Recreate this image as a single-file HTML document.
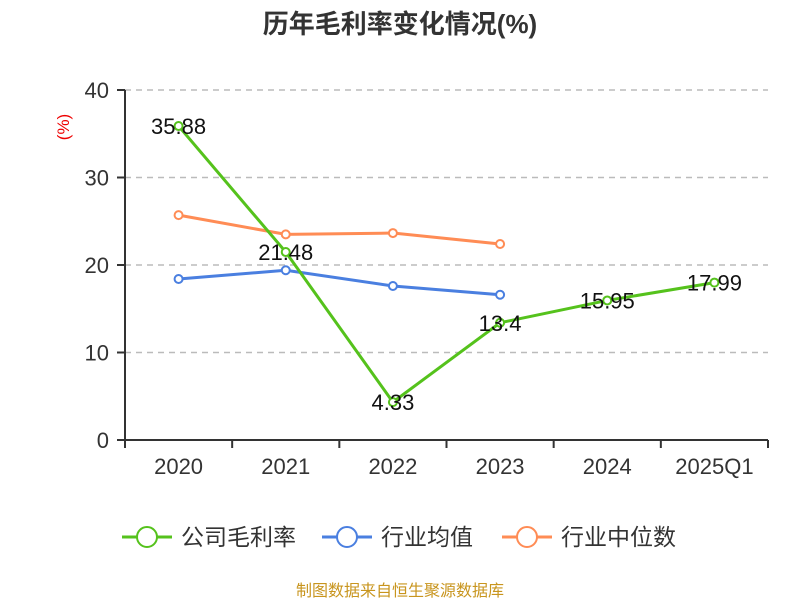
<!DOCTYPE html>
<html><head><meta charset="utf-8"><style>
body{margin:0;background:#fff;font-family:"Liberation Sans","Noto Sans CJK SC",sans-serif}
svg text{font-family:"Liberation Sans","Noto Sans CJK SC",sans-serif}
</style></head><body>
<svg id="c" width="800" height="600" xmlns="http://www.w3.org/2000/svg">
<text x="400" y="33" text-anchor="middle" font-size="26" font-weight="bold" fill="#333">历年毛利率变化情况(%)</text>
<text transform="translate(69,127) rotate(-90)" text-anchor="middle" font-size="17" fill="#e00">(%)</text>
<g id="plot"></g>
<text x="400" y="596" text-anchor="middle" font-size="16" fill="#c8951e">制图数据来自恒生聚源数据库</text>
</svg>
<script>
const categories=["2020","2021","2022","2023","2024","2025Q1"];
const company=[35.88,21.48,4.33,13.4,15.95,17.99];
const industryAvg=[18.4,19.4,17.6,16.6,null,null];
const industryMedian=[25.7,23.5,23.65,22.4,null,null];
const yTicks=[0,10,20,30,40];
const NS="http://www.w3.org/2000/svg";
const g=document.getElementById('plot');
const L=125,R=768,T=90,B=440,yMax=40;
const bw=(R-L)/categories.length;
const x=i=>L+bw*(i+0.5);
const y=v=>B-(v/yMax)*(B-T);
function mk(t,a,p){const e=document.createElementNS(NS,t);for(const k in a)e.setAttribute(k,a[k]);(p||g).appendChild(e);return e;}
yTicks.forEach(v=>{
 if(v>0){const ln=mk('line',{x1:L,x2:R,y1:y(v),y2:y(v),stroke:'#bbb','stroke-dasharray':'6,5','stroke-width':1.5});
 
 }
 const tk=mk('line',{x1:L-8,x2:L,y1:y(v),y2:y(v),stroke:'#333','stroke-width':2});
 
 
 const t=mk('text',{x:L-16,y:y(v)+8,'text-anchor':'end','font-size':22,fill:'#333'});t.textContent=v;
 
 
});
const ya=mk('line',{x1:L,x2:L,y1:T,y2:B,stroke:'#333','stroke-width':2});


const xa=mk('line',{x1:L,x2:R,y1:B,y2:B,stroke:'#333','stroke-width':2});


for(let i=0;i<=categories.length;i++){const tk=mk('line',{x1:L+bw*i,x2:L+bw*i,y1:B,y2:B+8,stroke:'#333','stroke-width':2});
 
 }
categories.forEach((c,i)=>{const t=mk('text',{x:x(i),y:B+34,'text-anchor':'middle','font-size':22,fill:'#333'});t.textContent=c;
 
 });
function series(data,color,name,labels){
 let pts=[];data.forEach((v,i)=>{if(v!=null)pts.push([x(i),y(v),v]);});
 const pl=mk('polyline',{points:pts.map(p=>p[0]+','+p[1]).join(' '),fill:'none',stroke:color,'stroke-width':3});
 
 
 pts.forEach(p=>{const c=mk('circle',{cx:p[0],cy:p[1],r:4,fill:'#fff',stroke:color,'stroke-width':2});
  
  
  if(labels){const t=mk('text',{x:p[0],y:p[1]+8,'text-anchor':'middle','font-size':22,fill:'#111'});t.textContent=p[2];
   
   }
 });
}
series(industryMedian,'#ff8c55','industry-median',false);
series(industryAvg,'#4a7fe0','industry-average',false);
series(company,'#55c21c','company',true);
const leg=[["公司毛利率",'#55c21c',122],["行业均值",'#4a7fe0',322],["行业中位数",'#ff8c55',502]];
leg.forEach(l=>{const gg=mk('g',{});
 
 
 mk('line',{x1:l[2],x2:l[2]+50,y1:537,y2:537,stroke:l[1],'stroke-width':3},gg);
 mk('circle',{cx:l[2]+25,cy:537,r:10,fill:'#fff',stroke:l[1],'stroke-width':2},gg);
 const t=mk('text',{x:l[2]+59,y:545,'font-size':23,fill:'#333'},gg);t.textContent=l[0];
});
</script>
</body></html>
